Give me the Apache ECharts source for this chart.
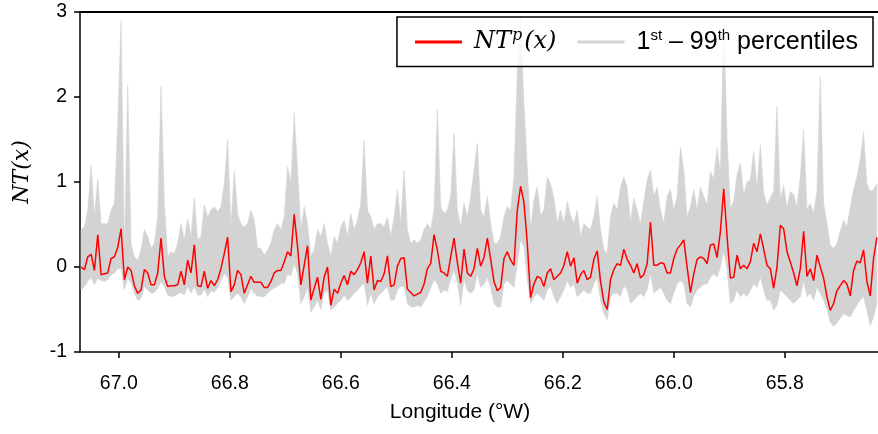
<!DOCTYPE html>
<html>
<head>
<meta charset="utf-8">
<script src="https://cdn.jsdelivr.net/npm/echarts@6/dist/echarts.min.js"></script>
<style>
html,body{margin:0;padding:0;background:#fff;}
#c{width:878px;height:434px;}
</style>
</head>
<body>
<div id="c"></div>
<script>
// Longitude (°W) sample positions
const lonDeg = [
67.068,67.062,67.056,67.050,67.044,67.038,67.032,67.026,67.020,67.014,
67.008,67.002,66.996,66.990,66.984,66.978,66.972,66.966,66.960,66.954,
66.948,66.942,66.936,66.930,66.924,66.918,66.912,66.906,66.900,66.894,
66.888,66.882,66.876,66.870,66.864,66.858,66.852,66.846,66.840,66.834,
66.828,66.822,66.816,66.810,66.804,66.798,66.792,66.786,66.780,66.774,
66.768,66.762,66.756,66.750,66.744,66.738,66.732,66.726,66.720,66.714,
66.708,66.702,66.696,66.690,66.684,66.678,66.672,66.666,66.660,66.654,
66.648,66.642,66.636,66.630,66.624,66.618,66.612,66.606,66.600,66.594,
66.588,66.582,66.576,66.570,66.564,66.558,66.552,66.546,66.540,66.534,
66.528,66.522,66.516,66.510,66.504,66.498,66.492,66.486,66.480,66.474,
66.468,66.462,66.456,66.450,66.444,66.438,66.432,66.426,66.420,66.414,
66.408,66.402,66.396,66.390,66.384,66.378,66.372,66.366,66.360,66.354,
66.348,66.342,66.336,66.330,66.324,66.318,66.312,66.306,66.300,66.294,
66.288,66.282,66.276,66.270,66.264,66.258,66.252,66.246,66.240,66.234,
66.228,66.222,66.216,66.210,66.204,66.198,66.192,66.186,66.180,66.174,
66.168,66.162,66.156,66.150,66.144,66.138,66.132,66.126,66.120,66.114,
66.108,66.102,66.096,66.090,66.084,66.078,66.072,66.066,66.060,66.054,
66.048,66.042,66.036,66.030,66.024,66.018,66.012,66.006,66.000,65.994,
65.988,65.982,65.976,65.970,65.964,65.958,65.952,65.946,65.940,65.934,
65.928,65.922,65.916,65.910,65.904,65.898,65.892,65.886,65.880,65.874,
65.868,65.862,65.856,65.850,65.844,65.838,65.832,65.826,65.820,65.814,
65.808,65.802,65.796,65.790,65.784,65.778,65.772,65.766,65.760,65.754,
65.748,65.742,65.736,65.730,65.724,65.718,65.712,65.706,65.700,65.694,
65.688,65.682,65.676,65.670,65.664,65.658,65.652,65.646,65.640,65.634
];

// NT^p(x)
const ntp = [
0.00,-0.03,0.12,0.15,-0.04,0.38,-0.09,-0.08,-0.07,0.10,
0.12,0.23,0.45,-0.15,0.00,-0.04,-0.22,-0.31,-0.27,-0.03,
-0.07,-0.21,-0.21,-0.07,0.34,-0.11,
-0.23,-0.22,-0.22,-0.21,
-0.05,-0.21,0.08,-0.07,0.26,-0.22,-0.23,-0.05,-0.25,-0.16,
-0.22,-0.15,-0.02,0.16,0.35,-0.29,-0.21,-0.04,-0.09,-0.31,
-0.21,-0.11,-0.18,
-0.18,-0.18,-0.24,-0.24,-0.17,-0.07,-0.04,
-0.04,0.06,0.18,0.13,0.62,0.24,-0.21,0.02,0.25,-0.39,
-0.25,-0.12,-0.38,-0.12,0.00,-0.45,-0.26,-0.31,-0.19,-0.10,
-0.21,-0.05,-0.09,-0.03,0.05,0.18,-0.19,0.13,-0.27,-0.16,
-0.17,-0.08,0.13,-0.23,-0.21,0.01,0.10,0.11,-0.26,-0.30,
-0.34,-0.32,-0.30,-0.20,-0.02,0.04,0.38,
0.20,-0.05,-0.07,
-0.11,0.12,0.34,0.05,-0.19,0.21,-0.07,-0.11,-0.02,0.22,
0.01,0.11,0.34,0.09,-0.17,-0.28,-0.24,0.10,0.18,0.08,
0.02,0.67,0.95,0.76,
0.28,-0.36,-0.20,-0.11,-0.13,-0.23,
-0.07,-0.02,-0.15,-0.11,-0.07,0.02,0.18,0.01,0.11,-0.19,
-0.09,-0.04,-0.15,-0.12,0.09,0.19,-0.17,-0.41,-0.50,-0.15,-0.03,
0.04,0.02,0.21,0.09,0.02,-0.07,0.04,-0.13,-0.09,
0.04,0.53,0.02,0.02,0.05,0.04,-0.07,-0.07,0.10,0.21,
0.26,0.32,0.00,-0.30,-0.08,0.09,0.12,0.10,
0.04,0.26,
0.27,0.11,0.42,0.92,0.36,-0.13,-0.12,0.14,-0.02,0.02,
-0.02,0.06,0.28,0.18,0.39,0.21,0.02,-0.02,-0.25,0.00,
0.49,0.45,0.18,0.06,-0.07,
-0.22,-0.02,0.42,-0.11,-0.02,
-0.16,0.14,0.00,-0.13,-0.35,-0.51,-0.43,-0.28,-0.22,-0.16,
-0.20,-0.34,-0.04,0.07,0.05,0.20,-0.17,-0.34,0.10,0.35
];

// 99th percentile (upper edge of band)
const p99 = [
0.44,0.47,0.67,1.20,0.59,1.04,0.51,0.51,0.51,0.67,
0.75,1.69,2.90,0.20,2.14,0.28,0.12,0.08,0.20,0.44,
0.36,0.22,0.28,0.59,2.12,0.75,
0.12,0.18,0.16,0.28,
0.51,0.32,0.57,0.36,0.81,0.32,0.36,0.73,0.59,0.67,
0.71,0.65,0.71,0.98,1.50,0.47,1.14,0.63,0.51,0.47,
0.51,0.67,0.55,
0.22,0.22,0.14,0.20,0.28,0.44,0.51,
0.44,0.59,1.18,0.98,1.81,1.14,0.45,0.71,0.51,0.12,
0.20,0.44,0.36,0.51,0.28,0.12,0.36,0.28,0.47,0.55,
0.36,0.63,0.44,0.55,0.75,1.49,0.67,0.59,0.44,0.51,
0.51,0.47,0.59,0.36,0.59,0.91,0.51,1.14,0.44,0.28,
0.32,0.28,0.32,0.44,0.51,0.44,0.67,
1.85,0.71,0.63,
0.67,0.83,1.57,0.67,0.47,0.75,0.59,0.83,1.14,1.45,
0.67,0.59,0.83,0.51,0.28,0.28,0.36,0.59,0.71,0.67,
1.06,2.30,2.95,1.90,
1.18,0.44,0.79,0.94,0.61,0.67,
1.06,0.98,0.81,0.51,0.67,0.51,0.77,0.61,0.51,0.67,
0.36,0.51,0.47,0.44,0.59,0.83,0.44,0.20,0.16,0.59,0.75,
0.67,0.94,1.06,0.94,0.53,0.81,0.67,0.51,0.77,
1.02,1.14,0.83,0.94,0.67,0.51,0.83,0.91,0.67,0.83,
1.41,1.14,0.59,0.71,0.91,0.67,0.94,0.83,
0.73,1.12,
1.04,1.40,1.10,2.90,1.50,0.69,0.77,1.08,1.22,0.85,
1.00,1.02,1.36,0.93,1.44,0.87,0.73,0.81,0.89,1.89,
0.79,0.96,0.69,0.89,0.85,
0.71,1.06,1.61,0.67,0.75,
0.63,0.89,2.24,0.75,0.51,0.26,0.22,0.28,0.42,0.55,
0.47,0.71,0.91,1.06,1.26,1.59,0.98,0.89,0.91,0.98
];

// 1st percentile (lower edge of band)
const p01 = [
-0.27,-0.23,-0.17,-0.13,-0.21,-0.13,-0.16,-0.17,-0.15,-0.09,
-0.07,-0.02,-0.02,-0.27,-0.13,-0.19,-0.31,-0.39,-0.37,-0.23,
-0.27,-0.31,-0.30,-0.25,-0.17,-0.23,
-0.33,-0.35,-0.34,-0.32,
-0.30,-0.33,-0.23,-0.31,-0.23,-0.33,-0.33,-0.26,-0.35,-0.28,
-0.30,-0.24,-0.16,-0.08,-0.12,-0.39,-0.35,-0.31,-0.35,-0.43,
-0.35,-0.25,-0.31,
-0.34,-0.35,-0.35,-0.31,-0.27,-0.25,-0.23,
-0.19,-0.19,-0.08,-0.11,0.04,-0.08,-0.43,-0.35,-0.24,-0.53,
-0.47,-0.39,-0.50,-0.31,-0.27,-0.51,-0.47,-0.43,-0.39,-0.33,
-0.39,-0.36,-0.31,-0.27,-0.23,-0.19,-0.45,-0.31,-0.43,-0.35,
-0.31,-0.27,-0.23,-0.39,-0.39,-0.27,-0.23,-0.23,-0.43,-0.47,
-0.47,-0.45,-0.47,-0.41,-0.35,-0.24,-0.15,
-0.20,-0.31,-0.27,
-0.29,-0.14,-0.04,-0.19,-0.45,-0.14,-0.27,-0.31,-0.27,-0.08,
-0.24,-0.20,-0.12,-0.24,-0.43,-0.47,-0.47,-0.20,-0.16,-0.20,
-0.24,0.04,0.32,0.24,
-0.15,-0.43,-0.35,-0.31,-0.35,-0.39,
-0.27,-0.23,-0.35,-0.43,-0.35,-0.27,-0.16,-0.24,-0.20,-0.35,
-0.31,-0.27,-0.31,-0.31,-0.20,-0.12,-0.39,-0.55,-0.62,-0.35,-0.31,
-0.31,-0.35,-0.22,-0.27,-0.43,-0.39,-0.35,-0.31,-0.35,
-0.27,-0.08,-0.31,-0.27,-0.24,-0.31,-0.39,-0.43,-0.31,-0.20,
-0.16,-0.20,-0.43,-0.47,-0.35,-0.27,-0.24,-0.20,
-0.20,-0.12,
-0.08,-0.12,0.00,0.18,-0.02,-0.43,-0.39,-0.27,-0.35,-0.31,
-0.35,-0.27,-0.20,-0.24,-0.12,-0.27,-0.39,-0.39,-0.51,-0.45,
-0.27,-0.31,-0.35,-0.39,-0.43,
-0.39,-0.35,-0.16,-0.35,-0.31,
-0.39,-0.24,-0.31,-0.39,-0.49,-0.65,-0.70,-0.66,-0.60,-0.55,
-0.57,-0.59,-0.51,-0.45,-0.39,-0.35,-0.51,-0.69,-0.59,-0.43
];

const xTickValues = [67.0, 66.8, 66.6, 66.4, 66.2, 66.0, 65.8];
const xRange = [65.632, 67.070];
const yRange = [-1, 3];
const seriesNames = ['NT^p(x)', '1st \u2013 99th percentiles'];

const n = Math.min(lonDeg.length, ntp.length, p99.length, p01.length);
const lineData = [];
for (let i = 0; i < n; i++) lineData.push([lonDeg[i], ntp[i]]);

const chart = echarts.init(document.getElementById('c'), null, {renderer: 'canvas'});
const axisColor = '#000';
const sans = 'Liberation Sans, Arial, sans-serif';
const serif = 'DejaVu Serif, serif';

chart.setOption({
  animation: false,
  grid: {left: 80, right: 0, top: 12, bottom: 82},
  xAxis: [{
    type: 'value', inverse: true, min: xRange[0], max: xRange[1],
    position: 'bottom',
    axisLine: {show: true, onZero: false, lineStyle: {color: axisColor, width: 1.5}},
    axisTick: {show: true, customValues: xTickValues, length: 6, lineStyle: {color: axisColor, width: 1.5}},
    axisLabel: {customValues: xTickValues, formatter: v => Number(v).toFixed(1), fontSize: 19.5, fontFamily: sans, color: axisColor, margin: 22},
    splitLine: {show: false},
    name: 'Longitude (\u00B0W)', nameLocation: 'middle', nameGap: 50,
    nameTextStyle: {fontSize: 21, fontFamily: sans, color: axisColor, padding: [0, 38, 0, 0]}
  }, {
    type: 'value', inverse: true, min: xRange[0], max: xRange[1],
    position: 'top',
    axisLine: {show: true, onZero: false, lineStyle: {color: axisColor, width: 2}},
    axisTick: {show: false}, axisLabel: {show: false}, splitLine: {show: false}
  }],
  yAxis: {
    type: 'value', min: yRange[0], max: yRange[1], interval: 1,
    axisLine: {show: true, onZero: false, lineStyle: {color: axisColor, width: 1.5}},
    axisTick: {show: true, length: 6, lineStyle: {color: axisColor, width: 1.5}},
    axisLabel: {fontSize: 19.5, fontFamily: sans, color: axisColor, margin: 13},
    splitLine: {show: false},
    name: 'NT(x)', nameLocation: 'middle', nameGap: 47,
    nameTextStyle: {fontSize: 22, fontFamily: serif, fontStyle: 'italic', color: axisColor, padding: [0, 0, 0, 20]}
  },
  legend: {
    top: 17, right: 5,
    backgroundColor: 'rgba(255,255,255,0.82)',
    borderColor: '#000', borderWidth: 1.5,
    padding: [11, 15, 12, 18],
    itemWidth: 47, itemHeight: 3, itemGap: 21,
    data: [{name: seriesNames[0], icon: 'rect'}, {name: seriesNames[1], icon: 'rect'}],
    formatter: function (name) {
      if (name === seriesNames[0]) return '{m|NT}{ms|p}{m2|(x)}';
      return '{a|1}{as|st}{a2| \u2013 99}{as|th}{a2| percentiles}';
    },
    textStyle: {
      rich: {
        m: {fontFamily: serif, fontStyle: 'italic', fontSize: 24, lineHeight: 28, verticalAlign: 'middle', padding: [0, 0, 0, 7], color: '#000'},
        m2: {fontFamily: serif, fontStyle: 'italic', fontSize: 24, lineHeight: 28, verticalAlign: 'middle', padding: [0, 0, 0, 2], color: '#000'},
        ms: {fontFamily: serif, fontStyle: 'italic', fontSize: 16, lineHeight: 12, verticalAlign: 'top', padding: [0, 0, 0, 1], color: '#000'},
        a: {fontFamily: sans, fontSize: 25, lineHeight: 28, verticalAlign: 'middle', padding: [0, 0, 0, 7], color: '#000'},
        a2: {fontFamily: sans, fontSize: 25, lineHeight: 28, verticalAlign: 'middle', color: '#000'},
        as: {fontFamily: sans, fontSize: 15, lineHeight: 13, verticalAlign: 'top', color: '#000'}
      }
    }
  },
  series: [{
    name: seriesNames[1],
    type: 'custom',
    xAxisIndex: 0, yAxisIndex: 0,
    itemStyle: {color: '#d3d3d3'},
    clip: true,
    data: [[lonDeg[0], p99[0]]],
    renderItem: function (params, api) {
      const pts = [];
      for (let i = 0; i < n; i++) pts.push(api.coord([lonDeg[i], p99[i]]));
      for (let i = n - 1; i >= 0; i--) pts.push(api.coord([lonDeg[i], p01[i]]));
      return {type: 'polygon', shape: {points: pts}, style: {fill: '#d3d3d3', stroke: '#d3d3d3', lineWidth: 0.6}};
    },
    z: 1
  }, {
    name: seriesNames[0],
    type: 'line',
    xAxisIndex: 0, yAxisIndex: 0,
    data: lineData,
    showSymbol: false, symbol: 'none',
    itemStyle: {color: '#ff0000'},
    lineStyle: {color: '#ff0000', width: 1.5},
    z: 3
  }]
});
</script>
</body>
</html>
